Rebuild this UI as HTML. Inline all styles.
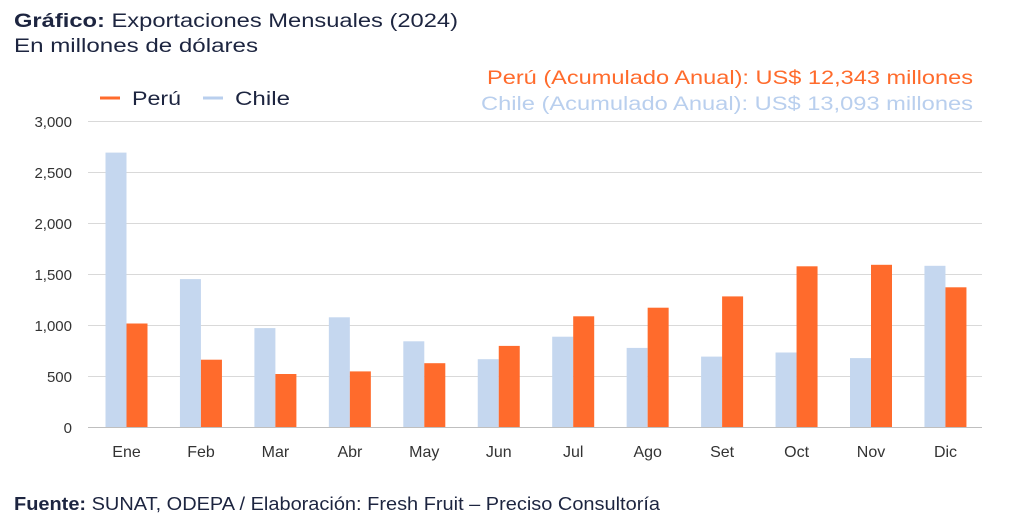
<!DOCTYPE html>
<html><head><meta charset="utf-8"><style>
body{margin:0;background:#fff;}
svg{display:block;font-family:"Liberation Sans",sans-serif;}
</style></head><body>
<svg width="1024" height="529" viewBox="0 0 1024 529">
<text x="14" y="27" font-size="19" fill="#1d2540" textLength="444" lengthAdjust="spacingAndGlyphs"><tspan font-weight="bold">Gráfico:</tspan> Exportaciones Mensuales (2024)</text>
<text x="14" y="52" font-size="19" fill="#1d2540" textLength="244" lengthAdjust="spacingAndGlyphs">En millones de dólares</text>
<text x="487" y="84" font-size="19" fill="#ff6b2c" textLength="486" lengthAdjust="spacingAndGlyphs">Perú (Acumulado Anual): US$ 12,343 millones</text>
<text x="481" y="110" font-size="19" fill="#b9cfee" textLength="492" lengthAdjust="spacingAndGlyphs">Chile (Acumulado Anual): US$ 13,093 millones</text>
<line x1="100" y1="98" x2="120" y2="98" stroke="#ff6b2c" stroke-width="3"/>
<text x="132" y="105" font-size="19" fill="#1d2540" textLength="49" lengthAdjust="spacingAndGlyphs">Perú</text>
<line x1="203" y1="98" x2="223" y2="98" stroke="#b9cfee" stroke-width="3"/>
<text x="235" y="105" font-size="19" fill="#1d2540" textLength="55" lengthAdjust="spacingAndGlyphs">Chile</text>
<g stroke="#d9d9d9" stroke-width="1">
<line x1="88" x2="982" y1="121.5" y2="121.5"/><line x1="88" x2="982" y1="172.5" y2="172.5"/>
<line x1="88" x2="982" y1="223.5" y2="223.5"/><line x1="88" x2="982" y1="274.5" y2="274.5"/>
<line x1="88" x2="982" y1="325.5" y2="325.5"/><line x1="88" x2="982" y1="376.5" y2="376.5"/>
</g>
<g transform="translate(0,427) scale(1,-1)">
<g fill="#c5d7ef">
<rect x="105.5" y="0" width="21" height="274.4"/>
<rect x="179.95" y="0" width="21" height="147.9"/>
<rect x="254.4" y="0" width="21" height="98.9"/>
<rect x="328.85" y="0" width="21" height="109.7"/>
<rect x="403.3" y="0" width="21" height="85.7"/>
<rect x="477.75" y="0" width="21" height="67.8"/>
<rect x="552.2" y="0" width="21" height="90.3"/>
<rect x="626.65" y="0" width="21" height="79.1"/>
<rect x="701.1" y="0" width="21" height="70.4"/>
<rect x="775.55" y="0" width="21" height="74.5"/>
<rect x="850" y="0" width="21" height="68.9"/>
<rect x="924.45" y="0" width="21" height="161.2"/>
</g>
<g fill="#ff6b2c">
<rect x="126.5" y="0" width="21" height="103.5"/>
<rect x="200.95" y="0" width="21" height="67.3"/>
<rect x="275.4" y="0" width="21" height="53.0"/>
<rect x="349.85" y="0" width="21" height="55.6"/>
<rect x="424.3" y="0" width="21" height="63.8"/>
<rect x="498.75" y="0" width="21" height="81.1"/>
<rect x="573.2" y="0" width="21" height="110.7"/>
<rect x="647.65" y="0" width="21" height="119.3"/>
<rect x="722.1" y="0" width="21" height="130.6"/>
<rect x="796.55" y="0" width="21" height="160.7"/>
<rect x="871" y="0" width="21" height="162.2"/>
<rect x="945.45" y="0" width="21" height="139.7"/>
</g>
</g>
<line x1="88" x2="982" y1="427.5" y2="427.5" stroke="#bfbfbf"/>
<g font-size="15" fill="#333" text-anchor="end">
<text x="72" y="127">3,000</text><text x="72" y="178">2,500</text><text x="72" y="229">2,000</text>
<text x="72" y="280">1,500</text><text x="72" y="331">1,000</text><text x="72" y="382">500</text><text x="72" y="433">0</text>
</g>
<g font-size="16" fill="#333" text-anchor="middle">
<text x="126.5" y="457">Ene</text><text x="201" y="457">Feb</text><text x="275.4" y="457">Mar</text>
<text x="349.9" y="457">Abr</text><text x="424.3" y="457">May</text><text x="498.8" y="457">Jun</text>
<text x="573.2" y="457">Jul</text><text x="647.7" y="457">Ago</text><text x="722.1" y="457">Set</text>
<text x="796.6" y="457">Oct</text><text x="871" y="457">Nov</text><text x="945.5" y="457">Dic</text>
</g>
<text x="14" y="510" font-size="18" fill="#1d2540" textLength="646" lengthAdjust="spacingAndGlyphs"><tspan font-weight="bold">Fuente:</tspan> SUNAT, ODEPA / Elaboración: Fresh Fruit – Preciso Consultoría</text>
</svg>
</body></html>
